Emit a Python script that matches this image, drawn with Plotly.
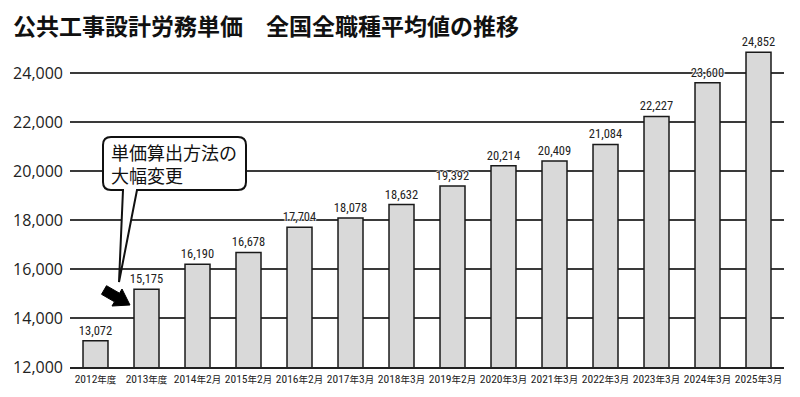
import plotly.graph_objects as go

categories = ["2012年度", "2013年度", "2014年2月", "2015年2月", "2016年2月", "2017年3月",
              "2018年3月", "2019年2月", "2020年3月", "2021年3月", "2022年3月", "2023年3月",
              "2024年3月", "2025年3月"]
values = [13072, 15175, 16190, 16678, 17704, 18078, 18632, 19392, 20214, 20409,
          21084, 22227, 23600, 24852]
y_ticks = [12000, 14000, 16000, 18000, 20000, 22000, 24000]
title_text = "公共工事設計労務単価　全国全職種平均値の推移"
callout_text = "単価算出方法の<br>大幅変更"

# the page body has an 8px margin, so the figure is 8px smaller and all
# reference pixel positions are shifted by OFF
OFF = 8
W, H = 800 - OFF, 397 - OFF
L, R, T, B = 70 - OFF, 16, 40 - OFF, 30
PW, PH = W - L - R, H - T - B


def px(x):
    return (x - OFF - L) / PW


def py(y):
    return (H - B - (y - OFF)) / PH


def path(cmds):
    out = []
    for c in cmds:
        if c[0] in ("M", "L"):
            out.append(f"{c[0]}{px(c[1]):.5f},{py(c[2]):.5f}")
        elif c[0] == "Q":
            out.append(f"Q{px(c[1]):.5f},{py(c[2]):.5f} {px(c[3]):.5f},{py(c[4]):.5f}")
        elif c[0] == "Z":
            out.append("Z")
    return " ".join(out)


def small_cjk(s, size):
    out = ""
    for ch in s:
        if ord(ch) > 0x2000:
            out += f'<span style="font-size:{size}px">{ch}</span>'
        else:
            out += ch
    return out


label_font = "Liberation Sans Narrow, Roboto Condensed, Noto Sans CJK JP, sans-serif"

fig = go.Figure()
fig.add_trace(go.Bar(
    x=categories, y=values,
    marker=dict(color="#d9d9d9", line=dict(color="#1a1a1a", width=1.5)),
    text=[f"{v:,}" for v in values], textposition="outside", cliponaxis=False,
    constraintext="none",
    textfont=dict(family=label_font, size=12.5, color="#222222",
                  shadow="1px 0px 1px white, -1px 0px 1px white, 0px 1px 1px white, 0px -1px 1px white"),
    hoverinfo="skip",
))

# callout box with tail
x0, x1, y0, y1, r = 103, 246, 137, 190, 8
box = [("M", x0 + r, y0), ("L", x1 - r, y0), ("Q", x1, y0, x1, y0 + r),
       ("L", x1, y1 - r), ("Q", x1, y1, x1 - r, y1),
       ("L", 137, y1), ("L", 119, 282), ("L", 123, y1),
       ("L", x0 + r, y1), ("Q", x0, y1, x0, y1 - r),
       ("L", x0, y0 + r), ("Q", x0, y0, x0 + r, y0), ("Z",)]
fig.add_shape(type="path", xref="paper", yref="paper", path=path(box),
              fillcolor="white", line=dict(color="#111111", width=2))

# block arrow pointing to the 2013 bar
arrow = [("M", 130, 305), ("L", 112, 306), ("L", 114.5, 301.8), ("L", 101.5, 294.3),
         ("L", 106.5, 285.7), ("L", 119.5, 293.2), ("L", 122, 289), ("Z",)]
fig.add_shape(type="path", xref="paper", yref="paper", path=path(arrow),
              fillcolor="black", line=dict(color="black", width=1))

fig.add_annotation(xref="paper", yref="paper", x=px(109), y=py(163), xanchor="left",
                   yanchor="middle", text=callout_text, showarrow=False, align="left",
                   font=dict(family="Noto Sans CJK JP", size=18, color="#111111"))

fig.update_layout(
    width=W, height=H,
    margin=dict(l=L, r=R, t=T, b=B, autoexpand=False),
    paper_bgcolor="white", plot_bgcolor="white",
    bargap=0.51, showlegend=False,
    title=dict(text=title_text, x=(13 - OFF) / W, xanchor="left", y=1 - (27 - OFF) / H,
               yanchor="middle",
               font=dict(family="Noto Sans CJK JP", size=23, color="#111111", weight="bold")),
    font=dict(family="Noto Sans CJK JP", color="#222222"),
)
fig.update_xaxes(showgrid=False, showline=True, linecolor="#222222", linewidth=1.5,
                 ticks="", ticklen=0, tickangle=0, automargin=False,
                 tickvals=categories, ticktext=[small_cjk(c, 9.5) for c in categories],
                 tickfont=dict(family=label_font, size=11.5, color="#222222"),
                 range=[-0.5, len(categories) - 0.5], fixedrange=True)
fig.update_yaxes(range=[12000, 12000 + PH / 0.0245], tickvals=y_ticks,
                 ticktext=[f"{v:,}" for v in y_ticks], showgrid=True, automargin=False,
                 gridcolor="#3a3a3a", gridwidth=1.5, zeroline=False, showline=False,
                 ticks="", ticklen=0, ticklabelstandoff=6,
                 tickfont=dict(family="Open Sans", size=16, color="#222222"),
                 fixedrange=True)

fig.write_html("out.html")
